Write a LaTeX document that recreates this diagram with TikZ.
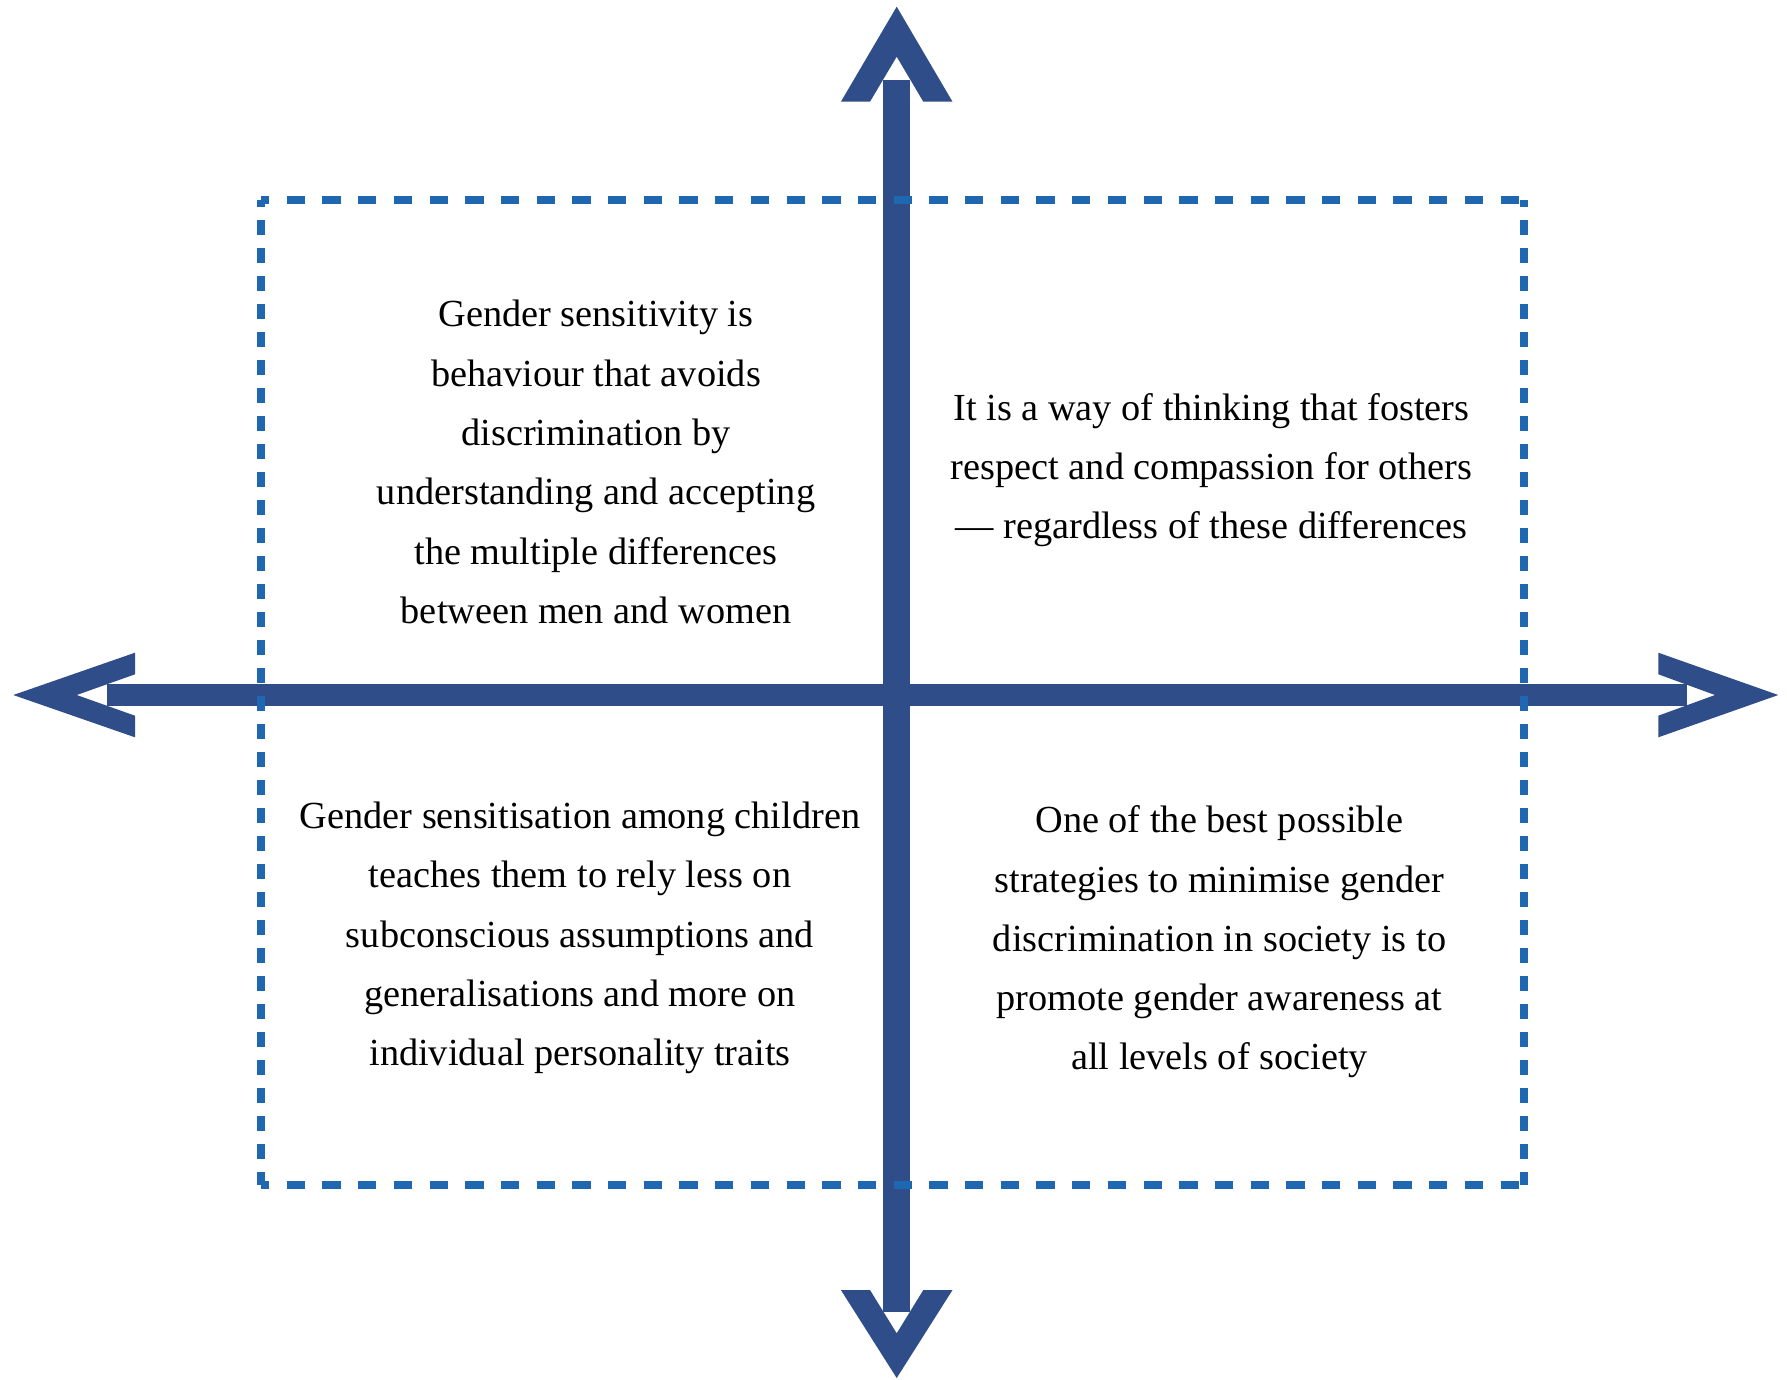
\documentclass[tikz,border=0pt]{standalone}
\usepackage{fontspec}
\setmainfont{Liberation Serif}
\definecolor{axisblue}{HTML}{2F4E89}
\definecolor{dashblue}{HTML}{1F67B1}
\begin{document}
\begin{tikzpicture}[x=1pt,y=-1pt,
  axis/.style={fill=axisblue,draw=none},
  boxh/.style={draw=dashblue,line width=8.5pt,dash pattern=on 18.3pt off 17.4pt,dash phase=10pt},
  boxv/.style={draw=dashblue,line width=8.5pt,dash pattern=on 14.5pt off 13.5pt,dash phase=8pt},
  txt/.style={align=center,inner sep=0pt,font=\fontsize{38.3pt}{59.3pt}\selectfont}]
\useasboundingbox[fill=white] (0,0) rectangle (1787,1379);
% shafts
\fill[axis] (106.7,684.2) rectangle (1686.7,705.8);
\fill[axis] (883.3,80) rectangle (910,1312);
% arrowheads
\fill[axis] (896.7,6.7) -- (952.5,101.7) -- (923.3,101.7) -- (896.7,56.7) -- (870,101.7) -- (840.9,101.7) -- cycle;
\fill[axis] (896.7,1378) -- (952.5,1290) -- (923.3,1290) -- (896.7,1333.3) -- (870,1290) -- (840.9,1290) -- cycle;
\fill[axis] (13.3,695) -- (135,652.7) -- (135,674.3) -- (76.7,695) -- (135,715.7) -- (135,737.3) -- cycle;
\fill[axis] (1778.3,695) -- (1658.3,652.7) -- (1658.3,674.3) -- (1715,695) -- (1658.3,715.7) -- (1658.3,737.3) -- cycle;
% dashed box
\coordinate (tl) at (261,200);
\coordinate (tr) at (1524,200);
\coordinate (br) at (1524,1185);
\coordinate (bl) at (261,1185);
\draw[boxh] (tl) -- (tr);
\draw[boxh] (bl) -- (br);
\draw[boxv] (tl) -- (bl);
\draw[boxv] (tr) -- (br);
% texts
\node[txt] (q1) at (596,462) {Gender sensitivity is\\behaviour that avoids\\discrimination by\\understanding and accepting\\the multiple differences\\between men and women};
\node[txt] (q2) at (1211.5,470) {It is a way of thinking that fosters\\respect and compassion for others\\— regardless of these differences};
\node[txt] (q3) at (580,938) {Gender sensitisation among children\\teaches them to rely less on\\subconscious assumptions and\\generalisations and more on\\individual personality traits};
\node[txt] (q4) at (1219.5,942) {One of the best possible\\strategies to minimise gender\\discrimination in society is to\\promote gender awareness at\\all levels of society};
\end{tikzpicture}
\end{document}
